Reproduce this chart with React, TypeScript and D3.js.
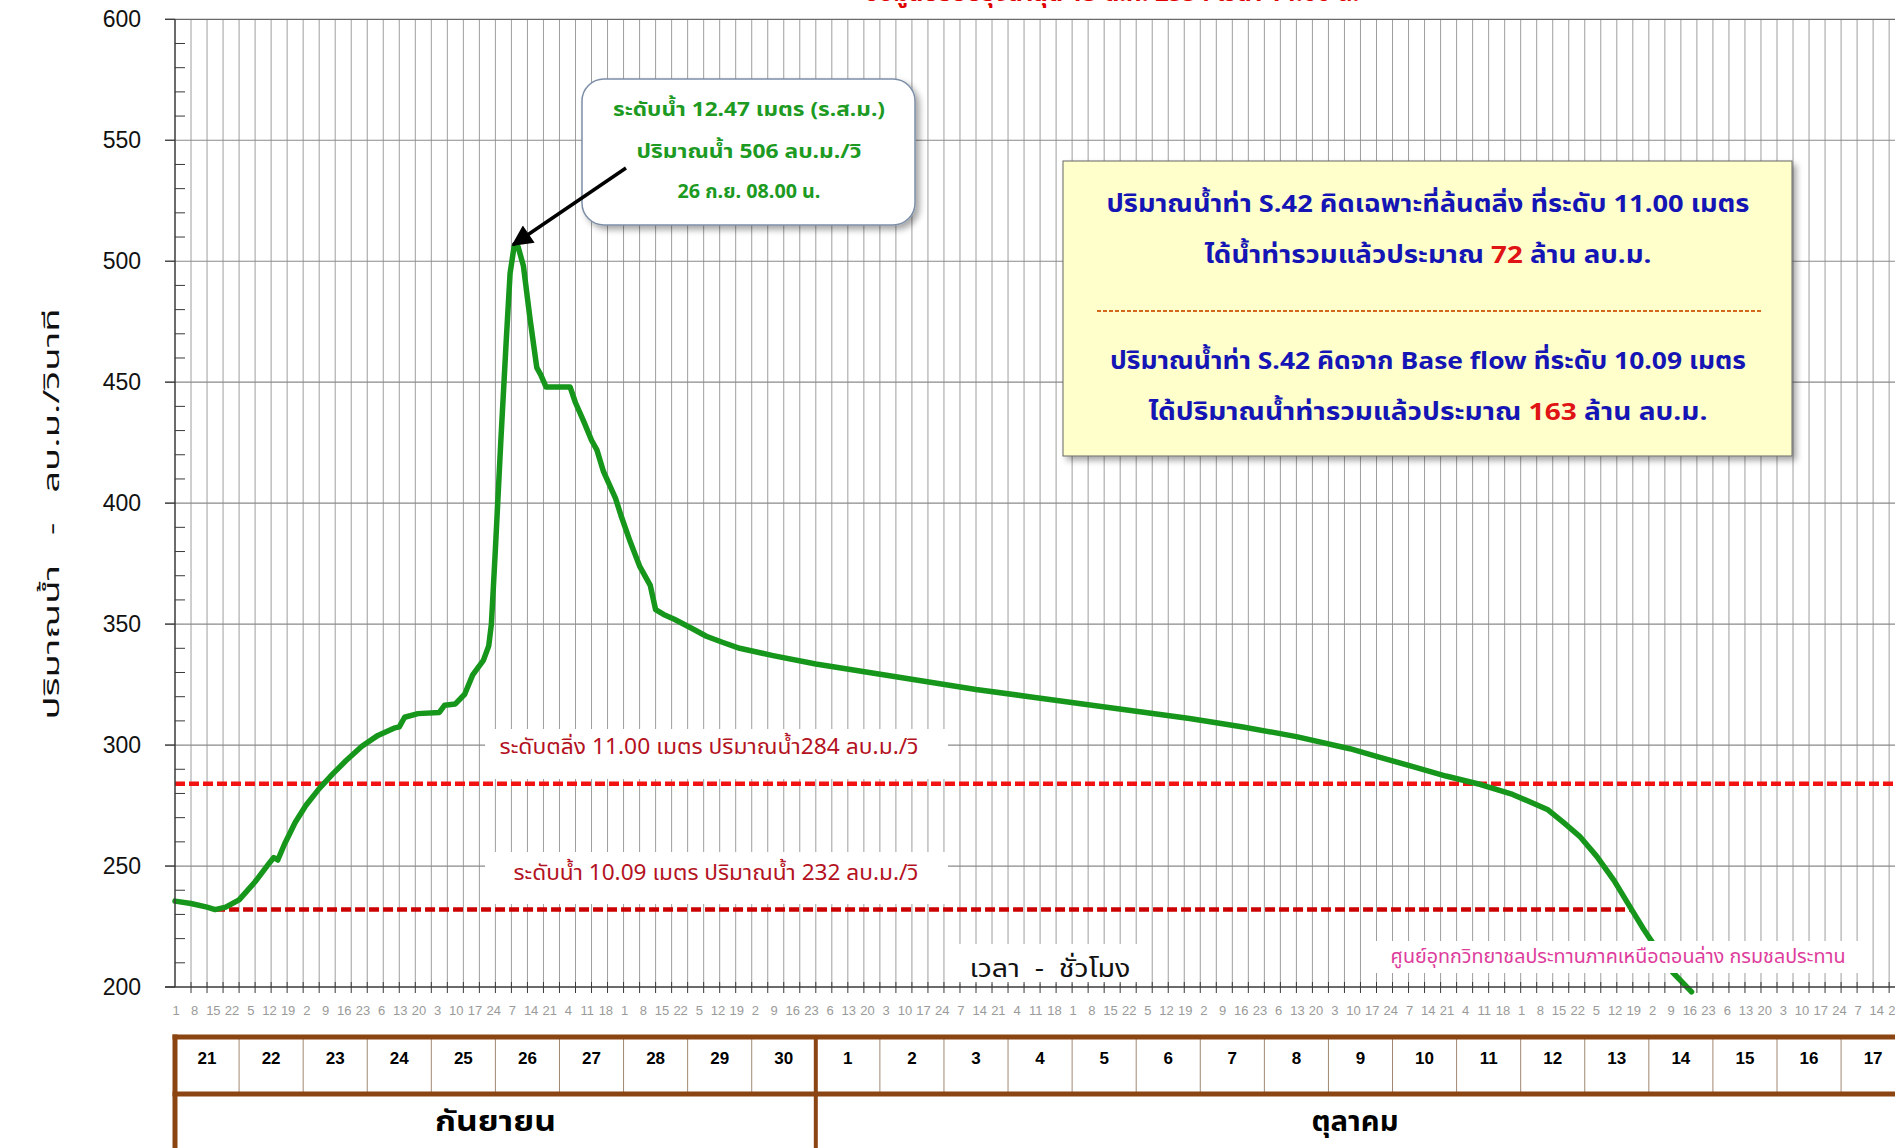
import React from "react";
import * as d3 from "d3";

const W = 1895;
const H = 1148;

// flow at S.42. hour index counted from 21 Sep 01:00 (= 0)
const flowHour = [0, 6, 12, 15, 19, 24, 30, 35.5, 37, 38.5,
  41, 45, 49, 54, 59, 64, 70, 76, 82, 84,
  86, 91, 99, 101, 105, 108.5, 111.5, 115.5, 117.5, 118.5,
  120, 122, 124, 125.5, 127, 128.5, 130.5, 133, 135.5, 137,
  139, 148, 150, 153, 156, 158, 160.5, 165, 167, 170.5,
  174, 178, 180, 183, 187, 194, 199, 205, 211.5, 224,
  240, 260, 280, 300, 320, 340, 360, 380, 400, 420,
  440, 451, 464, 476, 489, 501, 514, 520, 526, 532.5,
  539, 545, 550, 556, 561, 568];
const flowValue = [235.5, 234.5, 233, 232, 233, 236, 243.5, 251.5, 253.5, 252.5,
  259, 268, 275, 282, 288, 293.5, 299.5, 304, 307, 307.5,
  311.5, 313, 313.5, 316.5, 317, 321, 329, 335, 341, 350,
  381, 425, 466, 495, 506, 506, 498, 476, 456, 453,
  448, 448, 441.5, 434, 426, 422, 413, 402, 395, 384,
  374, 366, 356, 354, 352, 348, 345, 342.5, 340, 337,
  333.5, 330, 326.5, 323, 320, 317, 314, 311, 307.5, 303.5,
  298.5, 295, 291, 287.2, 283.7, 279.6, 273.4, 268, 262.4, 254,
  244, 233, 224, 214, 206, 198];

const peakHour = 127;
const peakValue = 506;

// reference levels
const bankFlow = 284;
const baseFlow = 232;
const baseFlowFrom = 15;
const baseFlowTo = 545.5;

// hour labels repeat every 24 labels (one every 7 hours)
const hourCycle = [1, 8, 15, 22, 5, 12, 19, 2, 9, 16, 23, 6, 13, 20, 3, 10, 17, 24, 7, 14, 21, 4, 11, 18];

const septDays = [21, 22, 23, 24, 25, 26, 27, 28, 29, 30];
const octDays = [1, 2, 3, 4, 5, 6, 7, 8, 9, 10, 11, 12, 13, 14, 15, 16, 17];
const monthNames = ["กันยายน", "ตุลาคม"];

const thai = "'Noto Sans Thai', 'Noto Sans Thai UI', Tahoma, 'Noto Sans', sans-serif";
const arial = "'Liberation Sans', Arial, sans-serif";
const narrow = "'Liberation Sans Narrow', 'Arial Narrow', 'Liberation Sans', sans-serif";
const fit = "spacingAndGlyphs";

export default function App() {
  const totalHours = (septDays.length + octDays.length) * 24;
  const x = d3.scaleLinear().domain([0, totalHours]).range([175, 175 + 27 * 64.08]);
  const y = d3.scaleLinear().domain([200, 600]).range([987, 19.3]);

  const pts: [number, number][] = flowHour.map((h, i) => [h, flowValue[i]]);
  const line = d3.line<[number, number]>().x(d => x(d[0])).y(d => y(d[1]));

  const gridX = d3.range(6, totalHours, 6);
  const majorY = d3.range(200, 601, 50);
  const minorY = d3.range(210, 600, 10).filter(v => v % 50 !== 0);
  const labelIdx = d3.range(0, totalHours, 7);

  const days = [...septDays, ...octDays];
  const tTop = 1037, tMid = 1094;
  const brown = "#8b4513";

  const tipX = x(peakHour) - 1, tipY = y(peakValue) - 2;

  return (
    <svg width={W} height={H} style={{ position: "absolute", left: 0, top: 0, background: "#fff" }}>
      <defs>
        <filter id="shadow" x="-10%" y="-10%" width="130%" height="140%">
          <feDropShadow dx="4" dy="4" stdDeviation="3" floodColor="#000" floodOpacity="0.35" />
        </filter>
        <marker id="arrow" viewBox="0 0 10 10" refX="9" refY="5" markerWidth="7" markerHeight="6" orient="auto">
          <path d="M0,0 L10,5 L0,10 z" fill="#000" />
        </marker>
      </defs>

      {/* title, mostly cut off at the top */}
      <text x={1112} y={1} textAnchor="middle" fill="#e00000" fontWeight="bold" fontSize={24} fontFamily={thai}
        textLength={495} lengthAdjust={fit}>
        ข้อมูลปรับปรุงล่าสุด 13 ต.ค. 2554 เวลา 14.00 น.
      </text>

      {/* grid */}
      {gridX.map(i => (
        <line key={"gx" + i} x1={x(i)} x2={x(i)} y1={y(600)} y2={y(200)} stroke="#9e9e9e" strokeWidth={1} />
      ))}
      {majorY.filter(v => v > 200).map(v => (
        <line key={"gy" + v} x1={165} x2={W} y1={y(v)} y2={y(v)} stroke={v === 600 ? "#6a6a6a" : "#8a8a8a"} strokeWidth={1.2} />
      ))}

      {/* white label boxes over the grid */}
      <rect x={485} y={729} width={463} height={50} fill="#fff" />
      <rect x={485} y={852} width={463} height={52} fill="#fff" />
      <rect x={958} y={944} width={186} height={40} fill="#fff" />

      {/* reference levels */}
      <line x1={x(0)} x2={W} y1={y(bankFlow)} y2={y(bankFlow)} stroke="#f21212" strokeWidth={4.5} strokeDasharray="10 4" />
      <line x1={x(baseFlowFrom)} x2={x(baseFlowTo)} y1={y(baseFlow)} y2={y(baseFlow)} stroke="#cc0000" strokeWidth={4.5} strokeDasharray="10 4" />
      <text x={709} y={754} textAnchor="middle" fill="#b3121e" fontSize={21} fontFamily={thai} textLength={419} lengthAdjust={fit}>
        ระดับตลิ่ง 11.00 เมตร ปริมาณน้ำ284 ลบ.ม./วิ
      </text>
      <text x={716} y={880} textAnchor="middle" fill="#b3121e" fontSize={21} fontFamily={thai} textLength={405} lengthAdjust={fit}>
        ระดับน้ำ 10.09 เมตร ปริมาณน้ำ 232 ลบ.ม./วิ
      </text>

      {/* flow curve */}
      <path d={line(pts) || ""} fill="none" stroke="#17961c" strokeWidth={5.5} strokeLinejoin="round" strokeLinecap="round" />

      {/* source note */}
      <rect x={1372} y={941} width={498} height={32} fill="#fff" />
      <text x={1618} y={963} textAnchor="middle" fill="#dd3c9c" fontSize={19} fontFamily={thai} textLength={455} lengthAdjust={fit}>
        ศูนย์อุทกวิทยาชลประทานภาคเหนือตอนล่าง กรมชลประทาน
      </text>

      {/* axes */}
      <line x1={175} x2={175} y1={y(600)} y2={y(200)} stroke="#3a3a3a" strokeWidth={1.5} />
      <line x1={165} x2={W} y1={y(200)} y2={y(200)} stroke="#3a3a3a" strokeWidth={1.5} />
      {majorY.map(v => (
        <line key={"mt" + v} x1={165} x2={175} y1={y(v)} y2={y(v)} stroke="#3a3a3a" strokeWidth={1.2} />
      ))}
      {minorY.map(v => (
        <line key={"nt" + v} x1={175} x2={185} y1={y(v)} y2={y(v)} stroke="#3a3a3a" strokeWidth={1} />
      ))}
      {majorY.map(v => (
        <text key={"yl" + v} x={141} y={y(v) + 8} textAnchor="end" fontSize={23} fontFamily={arial} fill="#111">{v}</text>
      ))}
      {gridX.map(i => (
        <line key={"xt" + i} x1={x(i)} x2={x(i)} y1={y(200) - 5} y2={y(200) + 6} stroke="#3a3a3a" strokeWidth={1} />
      ))}
      {labelIdx.map((i, k) => (
        <text key={"xl" + i} x={x(i) + 1} y={1015} textAnchor="middle" fontSize={13} fontFamily={narrow} fill="#9a9a9a">
          {hourCycle[k % hourCycle.length]}
        </text>
      ))}

      <text x={1050} y={977} textAnchor="middle" fontSize={25} fontFamily={thai} fill="#111" style={{ whiteSpace: "pre" }}
        textLength={161} lengthAdjust={fit}>
        {"เวลา  -  ชั่วโมง"}
      </text>
      <text transform="translate(59,514) rotate(-90)" textAnchor="middle" fontSize={22} fontFamily={thai} fill="#111"
        style={{ whiteSpace: "pre" }} textLength={411} lengthAdjust={fit}>
        {"ปริมาณน้ำ   -   ลบ.ม./วินาที"}
      </text>

      {/* date table */}
      {days.map((d, k) => (
        <g key={"d" + k}>
          {k > 0 && <line x1={x(k * 24)} x2={x(k * 24)} y1={tTop} y2={tMid} stroke="#a08872" strokeWidth={1} />}
          <text x={x(k * 24 + 12)} y={1064} textAnchor="middle" fontSize={17} fontWeight="bold" fontFamily={arial} fill="#000">{d}</text>
        </g>
      ))}
      <line x1={172.5} x2={W} y1={tTop} y2={tTop} stroke={brown} strokeWidth={5} />
      <line x1={172.5} x2={W} y1={tMid} y2={tMid} stroke={brown} strokeWidth={5} />
      <line x1={175} x2={175} y1={tTop - 2.5} y2={H} stroke={brown} strokeWidth={5} />
      <line x1={x(septDays.length * 24)} x2={x(septDays.length * 24)} y1={tTop} y2={H} stroke={brown} strokeWidth={4} />
      <text x={x(septDays.length * 12)} y={1131} textAnchor="middle" fontSize={28} fontWeight="bold" fontFamily={thai} fill="#000"
        textLength={121} lengthAdjust={fit}>{monthNames[0]}</text>
      <text x={1355} y={1131} textAnchor="middle" fontSize={28} fontWeight="bold" fontFamily={thai} fill="#000"
        textLength={87} lengthAdjust={fit}>{monthNames[1]}</text>

      {/* peak callout */}
      <rect x={582} y={79} width={333} height={146} rx={22} ry={22} fill="#fff" stroke="#7d8fa8" strokeWidth={1.5} filter="url(#shadow)" />
      <g fill="#1c9a22" fontWeight="bold" fontSize={20} fontFamily={thai} textAnchor="middle">
        <text x={749} y={116} textLength={272} lengthAdjust={fit}>ระดับน้ำ 12.47 เมตร (ร.ส.ม.)</text>
        <text x={749} y={158} textLength={225} lengthAdjust={fit}>ปริมาณน้ำ {peakValue} ลบ.ม./วิ</text>
        <text x={749} y={198} textLength={143} lengthAdjust={fit}>26 ก.ย. 08.00 น.</text>
      </g>
      <line x1={626} y1={168} x2={tipX} y2={tipY} stroke="#000" strokeWidth={3.5} markerEnd="url(#arrow)" />

      {/* volume summary box */}
      <rect x={1063} y={161} width={729} height={295} fill="#ffffcc" stroke="#666" strokeWidth={1} filter="url(#shadow)" />
      <g fontWeight="bold" fontSize={24} fontFamily={thai} textAnchor="middle" fill="#1515b5">
        <text x={1428} y={212} textLength={643} lengthAdjust={fit}>ปริมาณน้ำท่า S.42 คิดเฉพาะที่ล้นตลิ่ง ที่ระดับ 11.00 เมตร</text>
        <text x={1428} y={263} textLength={447} lengthAdjust={fit}>ได้น้ำท่ารวมแล้วประมาณ <tspan fill="#e01414">72</tspan> ล้าน ลบ.ม.</text>
        <text x={1428} y={369} textLength={636} lengthAdjust={fit}>ปริมาณน้ำท่า S.42 คิดจาก Base flow ที่ระดับ 10.09 เมตร</text>
        <text x={1428} y={420} textLength={559} lengthAdjust={fit}>ได้ปริมาณน้ำท่ารวมแล้วประมาณ <tspan fill="#e01414">163</tspan> ล้าน ลบ.ม.</text>
      </g>
      <line x1={1097} x2={1761} y1={311} y2={311} stroke="#d2691e" strokeWidth={2} strokeDasharray="4 2" />
    </svg>
  );
}
